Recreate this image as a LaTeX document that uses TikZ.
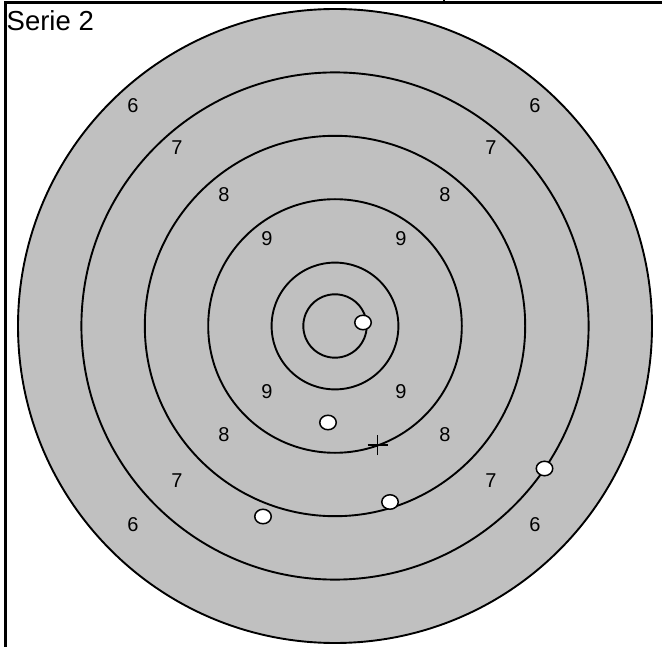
\documentclass[tikz,border=0pt]{standalone}
\usepackage{fontspec}
\setmainfont{Liberation Sans}
\usetikzlibrary{shapes.geometric}
\definecolor{ringgray}{HTML}{C0C0C0}
\begin{document}
\begin{tikzpicture}[x=1pt,y=-1pt,
  ringline/.style={draw=black,line width=1.9pt},
  scorelabel/.style={inner sep=0pt,anchor=center,font=\fontsize{20}{20}\selectfont},
  hole/.style={ellipse,draw=black,fill=white,line width=1.5pt,minimum width=16.5pt,minimum height=14.5pt,inner sep=0pt},
  frameline/.style={draw=black,line width=2.2pt}]
\useasboundingbox (0,0) rectangle (662,647);
% frame
\coordinate (tl) at (5.5,2.5);
\coordinate (tr) at (662,2.5);
\coordinate (bl) at (5.5,647);
\coordinate (tickt) at (444,0);
\coordinate (tickb) at (444,2.5);
\draw[frameline] (tr) -- (tl) -- (bl);
\draw[line width=1.2pt] (tickt) -- (tickb);
\node[anchor=base west,inner sep=0pt,font=\fontsize{27.5}{27.5}\selectfont] (title) at (6.5,31) {Serie 2};
% target
\coordinate (c) at (335,326);
\fill[ringgray] (c) circle (317);
\foreach \r in {317,253.6,190.2,126.8,63.4,31.7}{
  \draw[ringline] (c) circle (\r);
}
% labels
\node[scorelabel] (s6a) at (133,106) {6};
\node[scorelabel] (s6b) at (535,106) {6};
\node[scorelabel] (s6c) at (133,525) {6};
\node[scorelabel] (s6d) at (535,525) {6};
\node[scorelabel] (s7a) at (177,148) {7};
\node[scorelabel] (s7b) at (491,148) {7};
\node[scorelabel] (s7c) at (177,481) {7};
\node[scorelabel] (s7d) at (491,481) {7};
\node[scorelabel] (s8a) at (224,195) {8};
\node[scorelabel] (s8b) at (445,195) {8};
\node[scorelabel] (s8c) at (224,435) {8};
\node[scorelabel] (s8d) at (445,435) {8};
\node[scorelabel] (s9a) at (267,239) {9};
\node[scorelabel] (s9b) at (401,239) {9};
\node[scorelabel] (s9c) at (267,392) {9};
\node[scorelabel] (s9d) at (401,392) {9};
% shots
\node[hole] (h1) at (363,322.5) {};
\node[hole] (h2) at (328,422.5) {};
\node[hole] (h3) at (390,502) {};
\node[hole] (h4) at (544.5,468.5) {};
\node[hole] (h5) at (263,516.5) {};
% mean point cross
\coordinate (x) at (377.5,445);
\draw[line width=1.4pt] ([xshift=-10pt]x) -- ([xshift=10pt]x);
\draw[line width=1.4pt] ([yshift=-10pt]x) -- ([yshift=10pt]x);
\end{tikzpicture}
\end{document}
